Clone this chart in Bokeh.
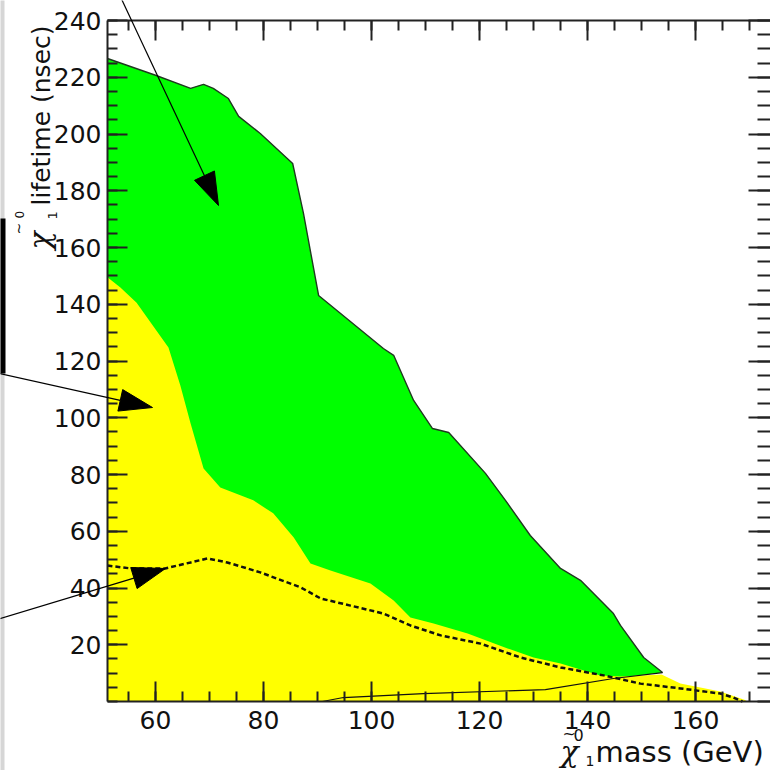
import math
from bokeh.plotting import figure
from bokeh.models import (Range1d, LinearAxis, FixedTicker, Label, Arrow, BoxAnnotation,
                          CustomJSTickFormatter)
from bokeh.embed import file_html
from bokeh.resources import INLINE

# ---------------- data ----------------
# upper edge of the green (excluded) region: mass (GeV), lifetime (nsec)
green_top_mass = [51.1, 60.0, 66.5, 68.9, 70.7, 73.5, 75.4, 79.4, 85.4, 87.4, 90.2,
                  102.2, 104.1, 107.8, 111.3, 114.3, 121.1, 124.8, 129.4, 135.0,
                  138.7, 144.8, 146.1, 150.4, 153.9]
green_top_life = [226.6, 220.7, 216.1, 217.5, 216.1, 212.5, 206.2, 200.2, 189.6, 172.0,
                  143.1, 124.4, 122.0, 106.1, 96.2, 94.8, 80.4, 70.9, 58.5, 46.9,
                  42.7, 31.0, 26.8, 15.5, 10.2]
# closing edge of the green region (below, hidden by yellow)
green_low_mass = [144.8, 144.8, 51.1]
green_low_life = [8.1, 0.0, 0.0]

# upper edge of the yellow region
yellow_top_mass = [51.1, 53.5, 56.5, 59.1, 62.4, 64.6, 66.5, 68.9, 72.0, 78.1, 81.8, 85.6,
                   88.7, 92.4, 99.8, 104.1, 107.2, 111.5, 117.8, 125.2, 130.0, 135.0,
                   142.4, 146.1, 153.7, 157.2, 164.6, 169.3]
yellow_top_life = [149.5, 145.9, 140.5, 133.6, 124.8, 111.4, 98.0, 82.1, 75.4, 70.9, 66.3,
                   57.8, 48.6, 46.2, 41.6, 35.6, 29.6, 27.5, 24.0, 18.7, 15.5, 13.4,
                   9.2, 8.8, 9.5, 6.3, 3.5, 0.4]

# dashed curve
dashed_mass = [51.1, 55.4, 61.8, 66.5, 69.6, 73.3, 79.4, 86.9, 90.6, 96.1, 102.2, 107.2,
               112.8, 120.2, 127.6, 135.0, 143.0, 149.8, 157.2, 164.6, 167.0, 168.7]
dashed_life = [47.9, 46.9, 46.9, 49.0, 50.4, 49.0, 45.5, 40.2, 36.3, 33.8, 31.0, 26.8,
               23.3, 20.4, 15.5, 12.0, 9.2, 6.3, 4.6, 2.8, 1.4, 0.0]

# thin solid curve at the bottom
solid_mass = [90.9, 94.8, 109.6, 132.2, 144.8, 153.9]
solid_life = [0.0, 1.4, 2.8, 4.2, 8.1, 10.2]

# ticks
x_major = [60, 80, 100, 120, 140, 160]
x_minor = list(range(55, 175, 5))
y_major = [20, 40, 60, 80, 100, 120, 140, 160, 180, 200, 220, 240]
y_minor = list(range(0, 245, 5))

# ---------------- geometry ----------------
W = H = 770
FX0, FX1 = 107, 769     # plot-box left/right in px
FY0, FY1 = 20, 701      # plot-box top/bottom in px
XMIN, XMAX = 51.11, 173.7
YMIN, YMAX = 0.0, 240.0


def dx(px):
    return XMIN + (px - FX0) * (XMAX - XMIN) / (FX1 - FX0)


def dy(py):
    return YMIN + (FY1 - py) * (YMAX - YMIN) / (FY1 - FY0)


XRIGHT = dx(771)   # right frame edge (just off the picture)

# the frame covers the whole canvas; the axes are pinned at the plot-box edges
p = figure(width=W, height=H, x_range=Range1d(dx(0), dx(W)), y_range=Range1d(dy(H), dy(0)),
           output_backend="svg", toolbar_location=None, min_border=0)
p.title.visible = False
p.xgrid.visible = False
p.ygrid.visible = False
p.outline_line_color = None
p.background_fill_color = "white"
p.border_fill_color = "white"

# regions
p.patch(green_top_mass + green_low_mass, green_top_life + green_low_life,
        fill_color="#00ff00", line_color=None)
p.patch(yellow_top_mass + [169.3, 51.1], yellow_top_life + [0.0, 0.0],
        fill_color="#ffff00", line_color=None)
p.line(green_top_mass, green_top_life, line_color="#1f3a1f", line_width=1.4)
p.line(dashed_mass, dashed_life, line_color="#111111", line_width=2.5, line_dash="5 3")
p.line(solid_mass, solid_life, line_color="#111111", line_width=1.2)

# axes
AX = "#222222"
blank = CustomJSTickFormatter(code="return ''")


def style_axis(ax, labels, tin=20, tmin=10):
    ax.axis_line_color = AX
    ax.axis_line_width = 2
    ax.major_tick_line_color = AX
    ax.major_tick_line_width = 2
    ax.major_tick_in = tin
    ax.major_tick_out = 0
    ax.minor_tick_line_color = AX
    ax.minor_tick_line_width = 2
    ax.minor_tick_in = tmin
    ax.minor_tick_out = 0
    ax.axis_label = None
    if labels:
        ax.major_label_text_font = "DejaVu Sans"
        ax.major_label_text_font_size = "25px"
        ax.major_label_text_color = "#111111"
    else:
        ax.formatter = blank
        ax.major_label_standoff = 0


xb = p.xaxis[0]
xb.ticker = FixedTicker(ticks=x_major, minor_ticks=x_minor)
style_axis(xb, True)
xb.major_label_standoff = 9
xb.fixed_location = YMIN
xb.bounds = (XMIN, XRIGHT)

yl = p.yaxis[0]
yl.ticker = FixedTicker(ticks=y_major, minor_ticks=y_minor)
style_axis(yl, True)
yl.major_label_standoff = 6
yl.fixed_location = XMIN
yl.bounds = (YMIN, YMAX)

xt = LinearAxis(ticker=FixedTicker(ticks=x_major, minor_ticks=x_minor),
                fixed_location=YMAX, bounds=(XMIN, XRIGHT))
style_axis(xt, False)
p.add_layout(xt, "above")
yr = LinearAxis(ticker=FixedTicker(ticks=y_major, minor_ticks=y_minor),
                fixed_location=XRIGHT, bounds=(YMIN, YMAX))
style_axis(yr, False, tin=23, tmin=14)
p.add_layout(yr, "right")

# left-edge remnants of the original page
p.add_layout(BoxAnnotation(left=dx(-2), right=dx(4), top=dy(-2), bottom=dy(772),
                           fill_color="#d6d6d6", fill_alpha=1, line_color=None))
p.add_layout(BoxAnnotation(left=dx(-2), right=dx(5), top=dy(218), bottom=dy(373),
                           fill_color="black", fill_alpha=1, line_color=None))

# annotation arrows (pixel positions of start and tip)
arrow_start_px = [(117, -10), (-10, 371), (-10, 621)]
arrow_tip_px = [(218, 205), (152, 407), (165, 568)]
HEAD_L, HEAD_W = 33, 11
head_xs, head_ys = [], []
for (sx, sy), (tx, ty) in zip(arrow_start_px, arrow_tip_px):
    L = math.hypot(tx - sx, ty - sy)
    ux, uy = (tx - sx) / L, (ty - sy) / L
    bx, by = tx - HEAD_L * ux, ty - HEAD_L * uy
    nx, ny = -uy, ux
    pts = [(tx, ty), (bx + HEAD_W * nx, by + HEAD_W * ny), (bx - HEAD_W * nx, by - HEAD_W * ny)]
    head_xs.append([dx(a) for a, b in pts])
    head_ys.append([dy(b) for a, b in pts])
    p.add_layout(Arrow(end=None, x_start=dx(sx), y_start=dy(sy), x_end=dx(bx), y_end=dy(by),
                       line_color="black", line_width=1.2))
p.patches(head_xs, head_ys, fill_color="black", line_color="black", line_width=1)

# axis titles
FONT = "DejaVu Sans"
SHIFT = 0.37   # baseline correction (fraction of font size)


def lab(px, py, text, size, rotated=False, baseline="alphabetic", font=FONT, style="normal"):
    if baseline == "alphabetic":
        if rotated:
            px -= SHIFT * size
        else:
            py -= SHIFT * size
    p.add_layout(Label(x=dx(px), y=dy(py), text=text, text_font=font,
                       text_font_size=f"{size}px", text_color="#111111",
                       text_font_style=style,
                       text_align="left", text_baseline=baseline,
                       angle=math.pi / 2 if rotated else 0.0))


# x title: chi~0_1 mass (GeV)
lab(560, 762, "χ", 30, font="DejaVu Serif", style="italic")
lab(562, 733, "~", 16, baseline="middle")
lab(573, 740, "0", 16)
lab(585, 766, "1", 14)
lab(595, 762, "mass (GeV)", 29)

# y title (rotated)
lab(50, 249, "χ", 30, rotated=True, font="DejaVu Serif", style="italic")
lab(57, 219, "1", 13, rotated=True)
lab(18, 234, "~", 14, rotated=True, baseline="middle")
lab(23, 218, "0", 12, rotated=True)
lab(50, 205, "lifetime (nsec)", 25, rotated=True)

open("out.html", "w").write(file_html(p, INLINE))
